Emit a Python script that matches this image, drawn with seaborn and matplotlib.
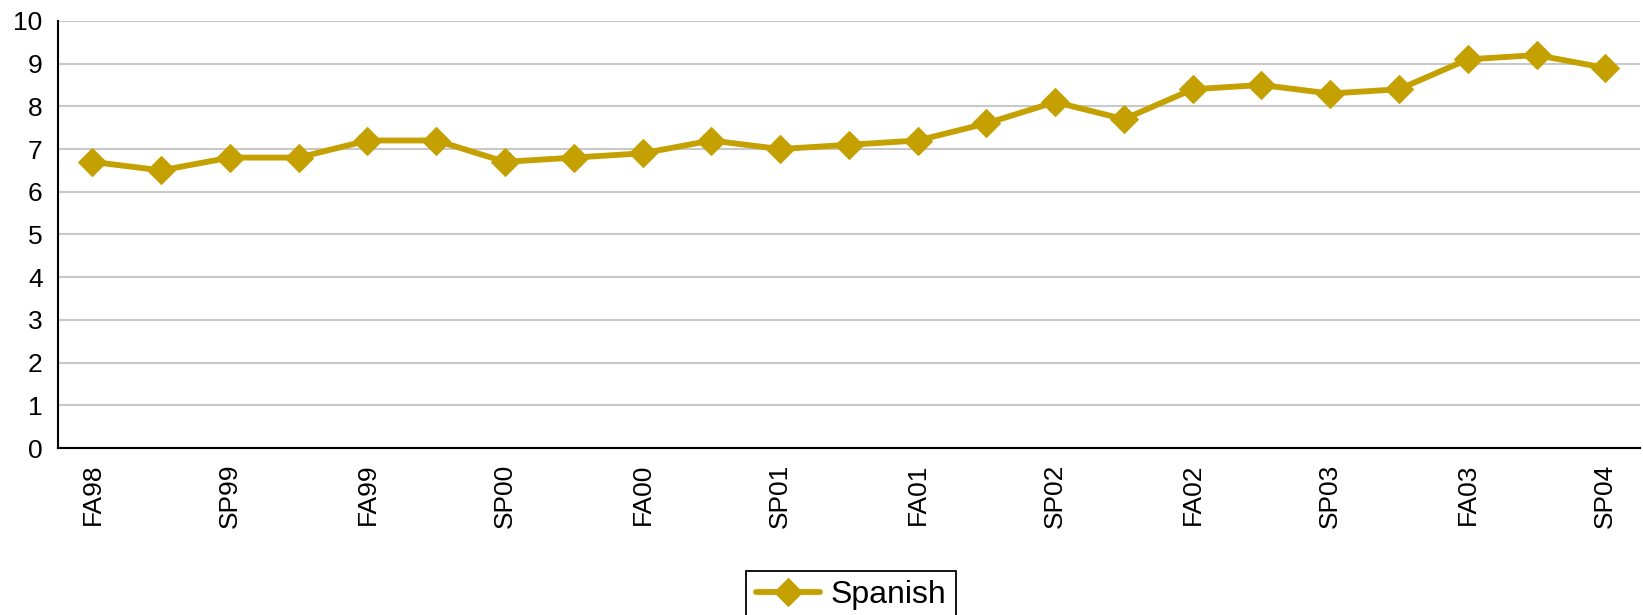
import numpy as np
import pandas as pd
import matplotlib
matplotlib.use("Agg")
import matplotlib.pyplot as plt
import seaborn as sns

terms = ["FA98", "", "SP99", "", "FA99", "", "SP00", "", "FA00", "", "SP01", "",
         "FA01", "", "SP02", "", "FA02", "", "SP03", "", "FA03", "", "SP04"]
spanish = [6.7, 6.5, 6.8, 6.8, 7.2, 7.2, 6.7, 6.8, 6.9, 7.2, 7.0, 7.1,
           7.2, 7.6, 8.1, 7.7, 8.4, 8.5, 8.3, 8.4, 9.1, 9.2, 8.9]

sns.set_style("white")
plt.rcParams['font.family'] = ['Liberation Sans', 'DejaVu Sans']
plt.rcParams['text.color'] = 'black'

df = pd.DataFrame({"idx": np.arange(len(spanish)), "value": spanish})
gold = "#C4A000"

fig = plt.figure(figsize=(16.43, 6.15), dpi=100)
ax = fig.add_axes([0.0353, 0.2715, 0.9627, 0.6945])
sns.lineplot(data=df, x="idx", y="value", ax=ax, color=gold, linewidth=4.2,
             marker="D", markersize=14, markeredgecolor=gold, label="Spanish",
             legend=False)

ax.set_xlim(-0.5, len(spanish) - 0.5)
ax.set_ylim(0, 10)
ax.set_yticks(range(0, 11))
ax.yaxis.grid(True, color="#C8C8C8", linewidth=1.5)
ax.set_axisbelow(True)

# labels on every other category, tick marks between categories
ax.set_xticks(np.arange(0, len(spanish), 2))
ax.set_xticklabels([t for t in terms if t], rotation=90)
ax.set_xticks(np.arange(-0.5, len(spanish), 2), minor=True)
ax.tick_params(axis="x", which="major", length=0, pad=11, labelsize=19, labelcolor="black")
ax.tick_params(axis="x", which="minor", length=8, width=1.5, color="black", direction="out")
ax.tick_params(axis="y", length=8, width=1.5, color="black", direction="out", labelsize=19,
               pad=3, labelcolor="black")
ax.set_xlabel("")
ax.set_ylabel("")

for s in ["top", "right"]:
    ax.spines[s].set_visible(False)
for s in ["left", "bottom"]:
    ax.spines[s].set_color("black")
    ax.spines[s].set_linewidth(1.5)

handles, labels = ax.get_legend_handles_labels()
leg = fig.legend(handles, labels, loc="upper center", bbox_to_anchor=(0.518, 0.098),
                 fontsize=23, frameon=True, fancybox=False, edgecolor="black",
                 framealpha=1, handlelength=2.0, handletextpad=0.35, borderpad=0.3)
leg.get_frame().set_linewidth(1.3)

fig.savefig("out.png", dpi=100)
